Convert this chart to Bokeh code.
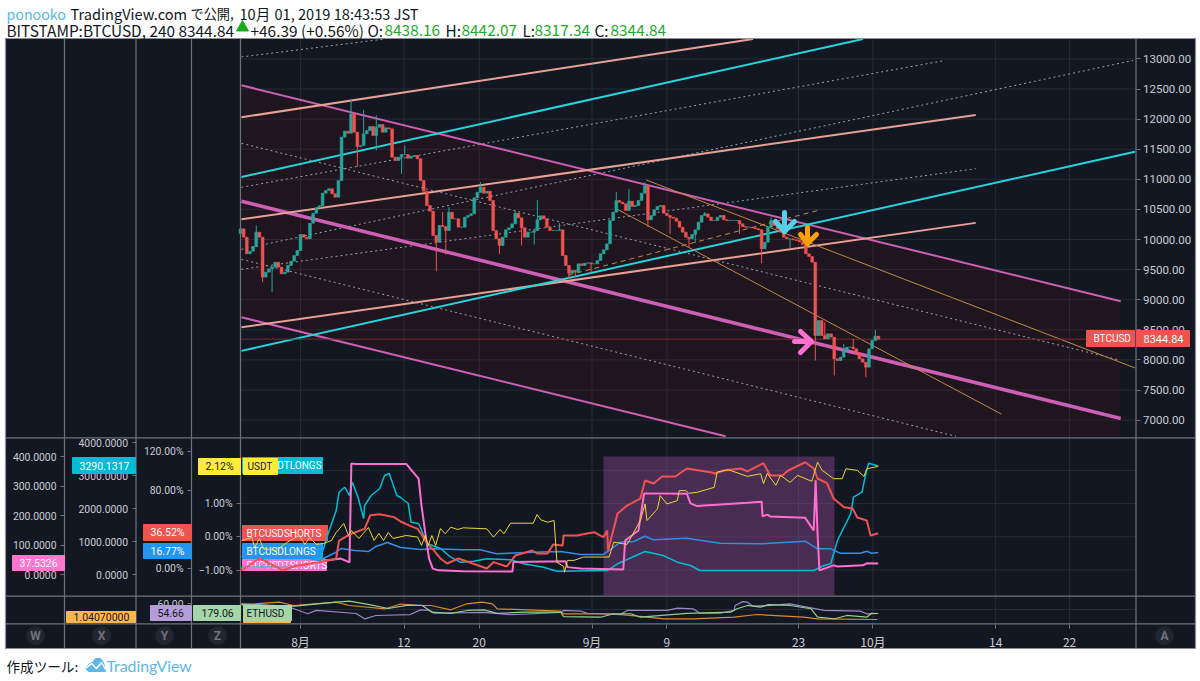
from bokeh.core.properties import value
from bokeh.embed import file_html
from bokeh.models import FixedTicker, LinearAxis, Range1d
from bokeh.plotting import figure
from bokeh.resources import INLINE

################# data

# 4h candles drawn every 8h, x = days on the chart, open = previous close
first_candle_day = -5.7
candle_step = 1 / 3
first_open = 10100
closes = [10177, 10039, 9762, 9806, 9884, 10122, 10039, 9374, 9457, 9513, 9540, 9623, 9540, 9430, 9457, 9568,
          9640, 9734, 9817, 10083, 10039, 10011, 10271, 10437, 10526, 10559, 10770, 10814, 10842, 10759, 10703,
          10980, 11700, 11800, 11766, 12087, 11783, 11545, 11561, 11755, 11811, 11877, 11727, 11866, 11910, 11783,
          11855, 11838, 11368, 11312, 11368, 11412, 11412, 11351, 11384, 11395, 11340, 10980, 10803, 10565, 10471,
          10066, 9956, 10232, 10216, 10149, 10454, 10343, 10343, 10205, 10205, 10371, 10399, 10426, 10692, 10786,
          10869, 10770, 10803, 10648, 10149, 10011, 9900, 10039, 10161, 10194, 10260, 10437, 10360, 10194, 10039,
          10122, 10122, 10149, 10327, 10393, 10343, 10205, 10149, 10149, 10149, 10161, 9734, 9568, 9441, 9485,
          9457, 9596, 9568, 9607, 9612, 9596, 9596, 9651, 9762, 9828, 9928, 10315, 10454, 10648, 10620, 10592,
          10482, 10637, 10548, 10565, 10648, 10770, 10897, 10327, 10399, 10493, 10548, 10565, 10437, 10399, 10371,
          10354, 10304, 10205, 10122, 10039, 10011, 10083, 10160, 10288, 10399, 10426, 10371, 10315, 10315, 10371,
          10399, 10327, 10315, 10315, 10315, 10315, 10260, 10216, 10205, 10205, 10194, 10177, 10160, 9845, 9955,
          10205, 10315, 10232, 10177, 10122, 10039, 10011, 10011, 9994, 9983, 9961, 9917, 9762, 9717, 9623, 8405,
          8654, 8405, 8350, 8433, 8378, 8018, 7990, 8045, 8156, 8211, 8211, 8184, 8112, 8018, 7962, 7879, 8184,
          8322, 8394, 8344.84]
wick_high_idx = [5, 35, 39, 43, 52, 64, 66, 76, 87, 94, 101, 119, 123, 128, 147, 168, 182, 185, 191, 194, 201]
wick_high = [10232, 12320, 12154, 12060, 11561, 10454, 10537, 10952, 10480, 10659, 10271, 10786, 10841, 10952,
             10454, 10371, 8793, 8627, 8267, 8350, 8499]
wick_low_idx = [7, 10, 37, 43, 51, 62, 65, 82, 89, 93, 104, 106, 111, 129, 136, 142, 144, 158, 165, 174, 182, 188, 198]
wick_low = [9291, 9125, 11213, 11478, 11091, 9474, 9751, 9762, 9900, 9917, 9347, 9374, 9457, 10205, 10094, 9872,
            9950, 10094, 9607, 9861, 7990, 7741, 7713]

# BTCUSDTSHORTS, W scale
pink_d = [-5.6, 0.6, 3.4, 4.9, 5.8, 6.0, 6.4, 11.8, 12.2, 13.1, 13.4, 13.8, 14.2, 14.6, 15.2, 17.8, 23.0, 23.1, 28.6,
          28.8, 30.2, 34.7, 34.9, 36.3, 36.9, 41.4, 41.8, 42.5, 47.8, 49.3, 49.4, 49.9, 50.2, 53.9, 54.8, 55.0, 55.2,
          55.4, 56.9, 57.3, 60.0, 60.4, 61.6]
pink_v = [20, 27, 47, 54, 41, 376, 375, 375, 359, 325, 234, 142, 54, 20, 14, 11, 10, 42, 45, 25, 20, 17, 115, 149,
          275, 274, 241, 232, 243, 247, 197, 203, 197, 192, 149, 319, 139, 14, 31, 27, 31, 38, 37.53]
# BTCUSDTLONGS, X scale
cyan_d = [-5.6, -3.3, 0.5, 2.6, 3.6, 4.4, 4.7, 5.3, 5.8, 6.1, 6.7, 7.3, 7.4, 8.1, 9.0, 9.5, 10.0, 10.8, 11.2, 12.0,
          12.3, 13.1, 14.0, 15.4, 16.5, 17.5, 18.9, 20.3, 22.8, 24.2, 26.3, 27.7, 33.0, 34.1, 37.0, 38.9, 40.4, 41.8,
          42.8, 54.8, 55.9, 56.6, 57.3, 58.7, 59.0, 59.9, 60.3, 60.6, 61.6]
cyan_v = [212, 221, 252, 373, 1282, 1939, 2494, 2645, 2394, 2797, 2342, 1697, 2091, 2394, 2606, 3000, 3061, 2394,
          2333, 2152, 1585, 1545, 939, 788, 524, 373, 403, 476, 445, 324, 221, 100, 121, 324, 697, 576, 373, 273,
          121, 121, 273, 324, 1030, 1839, 2342, 2494, 3061, 3373, 3290.13]
# BTCUSDSHORTS, Y scale
red_d = [-5.6, -3.7, -2.2, -1.2, 0.2, 2.6, 4.4, 4.7, 6.0, 7.4, 8.0, 9.0, 10.5, 11.2, 12.2, 13.0, 14.0, 14.7, 15.4,
         16.1, 17.3, 18.8, 20.3, 21.0, 22.4, 23.3, 25.1, 25.6, 26.7, 27.3, 28.3, 28.4, 29.8, 31.6, 32.6, 33.0, 33.1,
         34.1, 35.1, 36.5, 37.0, 37.9, 38.8, 40.2, 41.4, 43.9, 44.4, 45.3, 47.1, 47.8, 49.5, 50.2, 51.5, 52.1, 53.9,
         54.8, 55.2, 56.2, 56.9, 58.0, 58.9, 59.4, 60.4, 60.8, 61.6]
red_v = [-1.7, 10.6, 3.4, -1.7, 3.4, 6.8, 10.6, 29, 36, 41, 55, 56, 53, 48.5, 44, 41, 26, 19, 10.6, 5.4, 10.6, 5.4,
         0.3, 6.8, 2.4, 13.6, 18.8, 15.7, 15.7, 24.9, 23.9, 34.2, 34.2, 37.5, 32.4, 39.3, 18.8, 56.7, 64.9, 72, 90.6,
         87.5, 94.7, 94.7, 102.9, 99, 97.7, 100.8, 102.9, 100, 108.3, 95.7, 95.7, 100.8, 109.3, 102.9, 92.6, 87.8,
         72.1, 63.2, 61.8, 52.6, 49.5, 34.2, 36.52]
# BTCUSDLONGS, Y scale
blue_d = [-5.6, -3, 0.5, 2.6, 4.4, 4.9, 6.4, 7.8, 8.6, 9.8, 11.2, 13.3, 14.7, 17.8, 19.6, 21.3, 25.2, 28.1, 30.2,
          32.6, 33.7, 34.4, 35.8, 37.0, 37.9, 41.4, 44.9, 49.2, 53.9, 55.2, 56.6, 57.6, 59.7, 60.4, 60.9, 61.6]
blue_v = [12.6, 12.6, 12.6, 8.5, 17, 20.8, 18.8, 17.7, 22.9, 27, 21.8, 19.8, 20.5, 19.5, 19.5, 15.4, 17, 17.7, 14.7,
          14.7, 22.2, 27.3, 28, 33.4, 29.7, 31.4, 26.3, 25.6, 28.3, 20.5, 20.5, 16, 16, 18, 16, 16.77]
# USDT, Z scale
yellow_d = [-5.6, -4.5, -4.2, -3.7, -3.3, -1.9, -0.8, 0.5, 1.1, 1.6, 2.3, 3.1, 3.9, 4.4, 5.2, 5.7, 6.0, 6.8, 7.8, 8.4,
            8.9, 9.4, 9.9, 10.4, 11.8, 13.0, 13.4, 13.8, 14.1, 14.5, 14.9, 15.4, 15.9, 16.5, 17.2, 17.8, 20.3, 21.0,
            21.7, 22.1, 22.8, 25.2, 25.6, 26.0, 26.7, 27.4, 27.7, 28.4, 28.5, 28.8, 29.5, 30.5, 33.2, 33.7, 35.1, 36.5,
            37.0, 37.2, 38.3, 38.6, 39.3, 40.4, 40.6, 41.3, 41.6, 42.5, 44.3, 44.6, 45.8, 47.8, 49.2, 49.5, 49.9, 50.8,
            51.3, 52.3, 53.1, 54.6, 55.2, 55.7, 56.9, 57.8, 58.2, 59.4, 60.1, 60.4, 61.6]
yellow_v = [-0.11, -0.02, -0.32, -0.05, -0.35, -0.41, -0.17, 0.04, -0.23, -0.02, -0.23, -0.20, -0.11, 0.13, 0.40, 0.04,
            0.19, -0.05, 0.28, -0.11, 0.10, -0.11, 0.13, -0.05, 0.04, -0.01, -0.26, 0.04, -0.26, 0.04, -0.26, 0.25,
            0.09, 0.29, 0.22, 0.27, 0.24, -0.01, 0.22, 0.09, 0.41, 0.41, 0.67, 0.51, 0.44, 0.49, -0.77, -0.89, -1.07,
            -0.71, -0.71, -0.61, -0.61, -0.16, -0.23, 0.49, 0.99, 0.49, 0.84, 1.24, 0.99, 1.09, 1.39, 1.39, 1.31, 1.34,
            1.49, 1.95, 2.02, 1.82, 1.90, 1.60, 1.91, 1.55, 1.85, 1.64, 1.85, 1.67, 2.25, 2.00, 1.75, 1.75, 2.05, 2.00,
            1.82, 2.05, 2.12]

# bottom pane
eth_d = [-5.6, 0, 4.4, 5.8, 7.9, 9.9, 12, 13.5, 14.5, 16.5, 18.2, 20, 21.4, 24.2, 28.1, 28.4, 32.3, 33.7, 35.5, 36.5,
         41.4, 46, 46.7, 47.8, 49.2, 50, 52.3, 54.5, 55.2, 57, 58.3, 60.4, 60.9, 61.6]
eth_v = [220, 213, 231, 236, 220, 202, 218, 216, 185, 180, 193, 196, 180, 185, 185, 165, 162, 178, 178, 162, 180, 185,
         201, 216, 208, 220, 216, 201, 162, 155, 170, 162, 180, 179.06]
purple_d = [-5.6, -0.5, 1.4, 2.3, 6.5, 7.4, 8.6, 12.2, 13.3, 14.3, 14.7, 20, 22.8, 28.1, 28.4, 30.2, 30.9, 34.4, 35.1,
            39.3, 40.4, 42.1, 42.8, 44.9, 46.4, 46.5, 47.3, 47.8, 48.4, 49.9, 52.3, 54.5, 55.9, 59.7, 60.4, 61.6]
purple_v = [60, 58, 54.5, 56.3, 54.66, 51.8, 53.6, 54.1, 56.6, 56.3, 54.8, 55.3, 54, 55.3, 56.3, 55.9, 54.8, 54.1, 56.3,
            56.3, 57.5, 57.1, 54.8, 54.8, 56.3, 58.9, 61, 60.7, 58.6, 58.9, 59.8, 57.7, 56.3, 55.9, 54.5, 54.66]
orange_d = [-5.6, -1.6, -0.1, 4.4, 5.8, 9.6, 11.2, 13, 14.4, 16.5, 18.2, 19.8, 20.9, 21.4, 28.1, 28.4, 33.7, 36.2, 39,
            42.1, 46.4, 48.8, 53.7, 55.2, 61.5]
orange_v = [1.0554, 1.058, 1.0547, 1.058, 1.0547, 1.0514, 1.0562, 1.0547, 1.0547, 1.0504, 1.0564, 1.058, 1.0564, 1.0514,
            1.049, 1.0464, 1.0464, 1.044, 1.0414, 1.0414, 1.043, 1.0457, 1.043, 1.0414, 1.0407]

# axes
x_tick_days = [0.63, 11.56, 19.5, 31.4, 39.3, 53.2, 61.05, 74.0, 81.8]
x_tick_labels = ["8月", "12", "20", "9月", "9", "23", "10月", "14", "22"]
price_ticks = [7000, 7500, 8000, 8500, 9000, 9500, 10000, 10500, 11000, 11500, 12000, 12500, 13000]
price_labels = ["7000.00", "7500.00", "8000.00", "8500.00", "9000.00", "9500.00", "10000.00", "10500.00", "11000.00",
                "11500.00", "12000.00", "12500.00", "13000.00"]
w_ticks = [0, 100, 200, 300, 400]
w_labels = ["0.0000", "100.0000", "200.0000", "300.0000", "400.0000"]
x_scale_ticks = [0, 1000, 2000, 3000, 4000]
x_scale_labels = ["0.0000", "1000.0000", "2000.0000", "3000.0000", "4000.0000"]
y_ticks = [0, 80, 120]
y_labels = ["0.00%", "80.00%", "120.00%"]
z_ticks = [-1, 0, 1]
z_labels = ["−1.00%", "0.00%", "1.00%"]

# drawn channels, day and price at both ends
line_names = ["pink_top", "pink_mid", "pink_low", "salmon_a", "salmon_b", "salmon_c", "cyan_a", "cyan_b"]
line_d0 = [-5.6, -5.6, -5.6, -5.6, -5.6, -5.6, -5.6, -5.6]
line_p0 = [12561, 10635, 8708, 12030, 10336, 8542, 11037, 8150]
line_d1 = [87.2, 87.2, 45.5, 48.4, 71.9, 71.9, 60.0, 88.7]
line_p1 = [8974, 7026, 6731, 13330, 12070, 10276, 13330, 11458]
dotted_d0 = [-5.6, -5.6, -5.6, -5.6, -5.6, -5.6]
dotted_p0 = [11598, 9671, 13032, 10867, 9505, 9837]
dotted_d1 = [87.0, 69.8, 9.5, 68.4, 71.9, 88.5]
dotted_p1 = [8000, 6731, 13330, 12967, 11176, 12974]
tan_d0 = [37.1, 34.0, 28.9]
tan_p0 = [10990, 10507, 9408]
tan_d1 = [88.7, 74.6, 55.3]
tan_p1 = [7867, 7100, 10485]

################# chart <-> page helpers (layout of the TradingView screen)
W, H = 1200, 681


def day(px):
    return (px - 294) / 9.475


def price(py):
    return 13000 - (py - 58.4) / 0.0602


def w_val(py):
    return (574 - py) / 0.295


def xs_val(py):
    return (574 - py) / 0.033


def ys_val(py):
    return (568.3 - py) / 0.975


def zs_val(py):
    return (536.3 - py) / 33.2


def eth_val(py):
    return 179.06 + (613 - py) * 4.6


def purple_val(py):
    return 54.66 + (613 - py) * 0.534


def orange_val(py):
    return 1.0407 + (619 - py) * 0.001


p = figure(width=W, height=H, output_backend="svg", toolbar_location=None, x_axis_type=None, y_axis_type=None,
           x_range=Range1d(day(0), day(W)), y_range=Range1d(price(H), price(0)),
           min_border=0, outline_line_color=None, background_fill_color="white", border_fill_color="white",
           margin=0)
p.grid.visible = False
for name, f in [("w", w_val), ("xs", xs_val), ("ys", ys_val), ("zs", zs_val), ("eth", eth_val), ("pur", purple_val),
                ("usdt", orange_val)]:
    p.extra_y_ranges[name] = Range1d(f(H), f(0))

BG = "#131722"
GRID = "#262b37"
SEP = "#6f727c"
TICK_TXT = "#c9ccd4"
FONT = "Roboto"

# background, grid
p.quad(left=day(5), right=day(1195), bottom=price(648), top=price(38), color=BG, level="image")
p.segment(x0=x_tick_days, x1=x_tick_days, y0=price(623), y1=price(38), line_color=GRID, level="image")
p.segment(x0=day(240), x1=day(1135), y0=price_ticks, y1=price_ticks, line_color=GRID, level="image")
z_grid = [-1, 0, 1, 2]
p.segment(x0=day(240), x1=day(1135), y0=z_grid, y1=z_grid, y_range_name="zs", line_color=GRID, level="image")
p.segment(x0=day(240), x1=day(1135), y0=price(609), y1=price(609), line_color=GRID, level="image")


# axes, behind the boxed last-value labels
def add_axis(side, at, ticks, labels, range_name="default", size="10.4px", standoff=4):
    ax = LinearAxis(y_range_name=range_name, fixed_location=day(at), ticker=FixedTicker(ticks=ticks),
                    major_label_overrides=dict(zip(ticks, labels)), axis_line_color=None, major_tick_line_color=SEP,
                    major_tick_in=0, major_tick_out=4, minor_tick_line_color=None, major_label_standoff=standoff,
                    major_label_text_font=FONT, major_label_text_font_size=size,
                    major_label_text_color=TICK_TXT, level="underlay")
    p.add_layout(ax, side)


add_axis("right", 1135.5, price_ticks, price_labels, size="11.5px", standoff=3)
add_axis("left", 64, w_ticks, w_labels, "w")
add_axis("left", 135.5, x_scale_ticks, x_scale_labels, "xs")
add_axis("left", 191, y_ticks, y_labels, "ys")
add_axis("left", 191, [60], ["60.00"], "pur")
add_axis("left", 240, z_ticks, z_labels, "zs")
x_ax = LinearAxis(fixed_location=price(623.5), ticker=FixedTicker(ticks=x_tick_days),
                  major_label_overrides=dict(zip(x_tick_days, x_tick_labels)), axis_line_color=None,
                  major_tick_line_color=SEP, major_tick_in=0, major_tick_out=4, minor_tick_line_color=None,
                  major_label_standoff=5, major_label_text_font="Noto Sans CJK JP", major_label_text_font_size="12px",
                  major_label_text_color=TICK_TXT, level="underlay")
p.add_layout(x_ax, "below")

# channel fill
p.patch(x=[line_d0[0], line_d1[0], line_d1[0], line_d1[2], line_d0[2]],
        y=[line_p0[0], line_p1[0], line_p1[2], line_p1[2], line_p0[2]],
        color="#b50000", alpha=0.08, line_color=None)

# dotted grey lines
p.segment(x0=dotted_d0, y0=dotted_p0, x1=dotted_d1, y1=dotted_p1, line_color="#9aa0ad", line_width=1,
          line_dash="2 3")

# channel lines
line_cols = ["#cd5fb4", "#cd5fb4", "#cd5fb4", "#e9a196", "#e9a196", "#e9a196", "#26d4dc", "#26d4dc"]
line_w = [2, 3.5, 2, 2, 2, 2, 2, 2]
for i in range(len(line_names)):
    p.line([line_d0[i], line_d1[i]], [line_p0[i], line_p1[i]], line_color=line_cols[i], line_width=line_w[i])

# tan lines
p.line([tan_d0[0], tan_d1[0]], [tan_p0[0], tan_p1[0]], line_color="#c08a48", line_width=1)
p.line([tan_d0[1], tan_d1[1]], [tan_p0[1], tan_p1[1]], line_color="#c08a48", line_width=1)
p.line([tan_d0[2], tan_d1[2]], [tan_p0[2], tan_p1[2]], line_color="#c08a48", line_width=1, line_dash=[5, 4])

# last price line
p.segment(x0=day(240), x1=day(1135), y0=8344.84, y1=8344.84, line_color="#7c2b2f", line_width=1)

# candles
opens = [first_open] + closes[:-1]
highs = [max(o, c) for o, c in zip(opens, closes)]
lows = [min(o, c) for o, c in zip(opens, closes)]
for i, v in zip(wick_high_idx, wick_high):
    highs[i] = v
for i, v in zip(wick_low_idx, wick_low):
    lows[i] = v
days = [first_candle_day + i * candle_step for i in range(len(closes))]
cols = ["#26a69a" if c >= o else "#ef5350" for o, c in zip(opens, closes)]
p.segment(x0=days, x1=days, y0=lows, y1=highs, line_color=cols, line_width=1)
p.vbar(x=days, width=0.3, bottom=opens, top=closes, fill_color=cols, line_color=cols, line_width=0.5)


# marker arrows
def arrow(points, color):
    xs = [[day(a) for a, b in seg] for seg in points]
    ys = [[price(b) for a, b in seg] for seg in points]
    p.multi_line(xs, ys, line_color=color, line_width=5, line_cap="round", line_join="round")


arrow([[(784, 212), (784, 231)], [(775, 221), (784, 231), (794, 221)]], "#55d0e6")
arrow([[(807, 227), (807, 243)], [(800, 234), (807, 243), (816, 234)]], "#ff9f00")
arrow([[(794, 341), (810, 341)], [(800, 331), (811, 341), (800, 352)]], "#ff6fd0")


# boxed labels
def box(x0, x1, y0, y1, color, text=None, tx=None, tcol="white", size="10px"):
    p.quad(left=day(x0), right=day(x1), top=price(y0), bottom=price(y1), color=color)
    if text:
        p.text(x=[day(tx)], y=[price((y0 + y1) / 2)], text=[text], text_color=tcol, text_font=value(FONT),
               text_font_size=size, text_baseline="middle", text_align="left")


# pane 2 highlight
p.quad(left=day(603), right=day(834), top=price(456), bottom=price(595), color="#9a4e98", alpha=0.4, line_color=None)

# labels under the lines
box(242, 326, 559, 570, "#ff6fd0", "BTCUSDTSHORTS", 246)
box(242, 322, 457, 473, "#00bcd4", "BTCUSDTLONGS", 246)
box(242, 327, 525, 540, "#ef5350", "BTCUSDSHORTS", 246)
box(242, 322, 543, 558, "#2196f3", "BTCUSDLONGS", 246)
box(243, 290, 612, 622, "#ffb74d")
box(243, 277, 458, 474, "#ffeb3b", "USDT", 247, "#131722")

# indicator lines
p.line(cyan_d, cyan_v, y_range_name="xs", line_color="#00bcd4", line_width=1.5)
p.line(blue_d, blue_v, y_range_name="ys", line_color="#2f8fe8", line_width=1.5)
p.line(pink_d, pink_v, y_range_name="w", line_color="#ff6fd0", line_width=2)
p.line(red_d, red_v, y_range_name="ys", line_color="#ef5350", line_width=2)
p.line(yellow_d, yellow_v, y_range_name="zs", line_color="#e8d73a", line_width=1)
p.line(orange_d, orange_v, y_range_name="usdt", line_color="#d98a2b", line_width=1.2)
p.line(purple_d, purple_v, y_range_name="pur", line_color="#9b86c8", line_width=1.2)
p.line(eth_d, eth_v, y_range_name="eth", line_color="#8fd08f", line_width=1.2)

# frame and separators
for x in [64, 135.5, 191, 240, 1135.5]:
    p.segment(x0=day(x), x1=day(x), y0=price(38), y1=price(648), line_color=SEP, line_width=1.2)
for y, x_from in [(437.3, 5), (595.7, 5), (623.3, 5)]:
    p.segment(x0=day(x_from), x1=day(1195), y0=price(y), y1=price(y), line_color=SEP, line_width=1.2)
p.quad(left=day(5), right=day(1195), bottom=price(648), top=price(38), fill_color=None, line_color="#8e9096",
       line_width=1.2)

# boxed last values on the scales
NUM = "10.5px"
box(12, 64, 555, 570, "#ff77cc", "37.5326", 19, size=NUM)
box(72, 135, 457, 473, "#00bcd4", "3290.1317", 79, size=NUM)
box(198, 240, 458, 474, "#ffeb3b", "2.12%", 205, "#131722", NUM)
box(143, 191, 524, 540, "#ef5350", "36.52%", 150, size=NUM)
box(143, 191, 543, 558, "#2196f3", "16.77%", 150, size=NUM)
box(66, 135, 611, 622, "#ffb74d", "1.04070000", 73, "#131722", NUM)
box(150, 191, 605, 620, "#b39ddb", "54.66", 157, "#131722", NUM)
box(193, 240, 605, 620, "#a5d6a7", "179.06", 201, "#131722", NUM)
box(243, 291, 605, 620, "#a5d6a7", "ETHUSD", 246, "#131722")
box(1086, 1134, 330, 346, "#ef5350", "BTCUSD", 1093)
box(1136, 1189, 330, 346, "#ef5350", "8344.84", 1143, size="11px")

# scale buttons
btn_px = [35, 101, 164, 217, 1164]
btn_text = ["W", "X", "Y", "Z", "A"]
p.scatter([day(v) for v in btn_px], [price(635)] * 5, size=18, color="#22262f")
p.text([day(v) for v in btn_px], [price(635)] * 5, text=btn_text, text_color="#6f727c", text_font=value(FONT),
       text_font_size="12px", text_align="center", text_baseline="middle", text_font_style="bold")


# header and footer text
def put(text, px, py, color="#131722", size="15.4px", font="Noto Sans CJK JP"):
    p.text([day(px)], [price(py)], text=[text], text_color=color, text_font=value(font), text_font_size=size,
           text_align="left", text_baseline="middle")


put("ponooko", 6, 13, "#5bb8e8", "14.2px")
put("TradingView.com", 70, 13, size="14.6px")
put("で公開,", 190, 13, size="13.2px")
put("10月", 239, 13, size="14.6px")
put("01, 2019 18:43:53 JST", 274, 13, size="14.6px")
put("BITSTAMP:BTCUSD, 240 8344.84", 6, 29)
p.scatter([day(242)], [price(27)], marker="triangle", size=12, color="#18a81c")
put("+46.39 (+0.56%) O:", 250, 29)
put("8438.16", 384, 29, "#22ab29")
put("H:", 445, 29)
put("8442.07", 461, 29, "#22ab29")
put("L:", 522, 29)
put("8317.34", 534, 29, "#22ab29")
put("C:", 594, 29)
put("8344.84", 610, 29, "#22ab29")
put("作成ツール:", 6, 665, size="13.6px")
put("TradingView", 106, 665, "#5bb8e8", "15.8px", "Lato")

# logo
logo_x = [85, 89, 92, 95, 100, 103, 105, 102, 88]
logo_y = [668, 663, 662, 658, 658, 662, 671, 671, 671]
p.patch([day(v) for v in logo_x], [price(v) for v in logo_y], color="#5bb8e8")
p.line([day(v) for v in [85, 91, 96, 101, 105]], [price(v) for v in [668, 663, 668, 662, 669]], line_color="white",
       line_width=1.5)

open("out.html", "w", encoding="utf-8").write(file_html(p, INLINE))
